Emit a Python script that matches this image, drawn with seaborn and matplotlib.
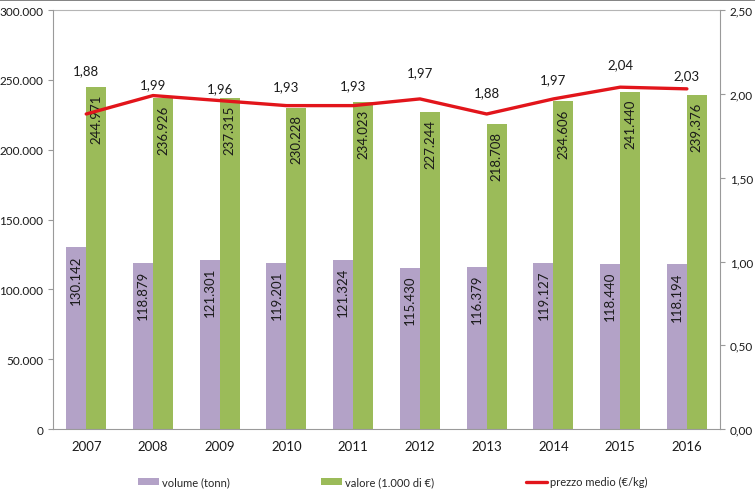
import pandas as pd
import seaborn as sns
import matplotlib.pyplot as plt
from matplotlib.patches import Patch
from matplotlib.lines import Line2D

# data
years = ['2007', '2008', '2009', '2010', '2011', '2012', '2013', '2014', '2015', '2016']
volume = [130142, 118879, 121301, 119201, 121324, 115430, 116379, 119127, 118440, 118194]
valore = [244971, 236926, 237315, 230228, 234023, 227244, 218708, 234606, 241440, 239376]
prezzo = [1.88, 1.99, 1.96, 1.93, 1.93, 1.97, 1.88, 1.97, 2.04, 2.03]

# vertical offset (pixels) of each price label above the line
price_label_dy = [44, 11, 12, 19, 20, 27, 22, 20, 23, 14]

PURPLE = '#B3A2C7'
GREEN = '#9BBB59'
RED = '#E2151B'
TXT = '#1a1a1a'
AXC = '#9a9a9a'


def fmt_it(v):
    return f'{v:,.0f}'.replace(',', '.')


def build_plot():
    sns.set_style('white')
    plt.rcParams['font.family'] = ['Lato', 'DejaVu Sans']

    df = pd.DataFrame({
        'anno': years * 2,
        'serie': ['volume (tonn)'] * len(years) + ['valore (1.000 di €)'] * len(years),
        'valore': volume + valore,
    })

    fig = plt.figure(figsize=(7.55, 5.02), dpi=100)
    ax = fig.add_axes([0.070, 0.143, 0.884, 0.835])

    sns.barplot(data=df, x='anno', y='valore', hue='serie', order=years,
                palette=[PURPLE, GREEN], width=0.6, saturation=1,
                linewidth=0, legend=False, ax=ax)

    # labels inside the bars, rotated
    for cont in ax.containers:
        for rect in cont:
            h = rect.get_height()
            ax.annotate(fmt_it(h), (rect.get_x() + rect.get_width() / 2, h),
                        xytext=(0, -5), textcoords='offset points',
                        ha='center', va='top', rotation=90,
                        fontsize=9.5, color=TXT)

    ax.set_ylim(0, 300000)
    ax.set_xlim(-0.5, len(years) - 0.5)
    ax.set_yticks(range(0, 300001, 50000))
    ax.set_yticklabels([fmt_it(v) for v in range(0, 300001, 50000)], fontsize=8.5)
    ax.set_xlabel('')
    ax.set_ylabel('')

    # x ticks sit between categories
    ax.set_xticks([i - 0.5 for i in range(len(years) + 1)], minor=True)
    ax.tick_params(axis='x', which='major', length=0, pad=8, labelsize=9.5, colors=TXT)
    ax.tick_params(axis='x', which='minor', length=3.5, color=AXC, direction='out')
    ax.tick_params(axis='y', length=3.5, direction='out', pad=3.5, colors=TXT)
    ax.tick_params(axis='y', color=AXC)

    for s in ['left', 'bottom']:
        ax.spines[s].set_color(AXC)
        ax.spines[s].set_linewidth(0.8)
    ax.spines['right'].set_visible(False)
    ax.spines['top'].set_visible(False)
    ax.axhline(300000, color='#b5b5b5', lw=0.8, clip_on=False)

    ax2 = ax.twinx()
    sns.lineplot(x=list(range(len(years))), y=prezzo, color=RED, lw=2.4, ax=ax2)
    ax2.set_ylim(0, 2.5)
    ticks2 = [0, 0.5, 1.0, 1.5, 2.0, 2.5]
    ax2.set_yticks(ticks2)
    ax2.set_yticklabels([f'{v:.2f}'.replace('.', ',') for v in ticks2], fontsize=8.5)
    ax2.tick_params(axis='y', length=3.5, direction='out', pad=3.5, colors=TXT)
    ax2.tick_params(axis='y', color=AXC)
    for s in ['left', 'bottom', 'top']:
        ax2.spines[s].set_visible(False)
    ax2.spines['right'].set_color(AXC)
    ax2.spines['right'].set_linewidth(0.8)

    for i, p in enumerate(prezzo):
        ax2.annotate(f'{p:.2f}'.replace('.', ','), (i, p),
                     xytext=(0, price_label_dy[i] * 0.72), textcoords='offset points',
                     ha='center', va='center', fontsize=9.5, color=TXT)

    handles = [
        Patch(facecolor=PURPLE, edgecolor='none'),
        Patch(facecolor=GREEN, edgecolor='none'),
        Line2D([0], [0], color=RED, lw=2.4),
    ]
    labels = ['volume (tonn)', 'valore (1.000 di €)', 'prezzo medio (€/kg)']
    fig.legend(handles, labels, loc='center', bbox_to_anchor=(0.52, 0.038), ncol=3,
               frameon=False, fontsize=8, handlelength=1.9, handleheight=0.55,
               handletextpad=0.3, columnspacing=8.2)

    # thin frame line at the very top of the picture
    fig.add_artist(Line2D([0, 1], [0.999, 0.999], color='#6e6e6e', lw=1.2,
                          transform=fig.transFigure))

    fig.savefig('out.png', dpi=100)


if __name__ == '__main__':
    build_plot()
